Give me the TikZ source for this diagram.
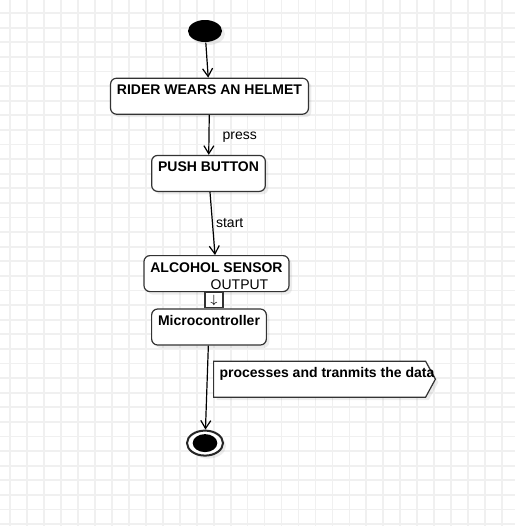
\documentclass[tikz,border=0pt]{standalone}
\usepackage{fontspec}
\setmainfont{Liberation Sans}
\usetikzlibrary{positioning, arrows.meta, shapes.geometric, shapes.symbols, shadows}

\begin{document}
\begin{tikzpicture}[x=0.5pt, y=-0.5pt, >={Straight Barb[length=4pt,width=5pt]}, line width=0.6pt]
\tikzset{
  gridline/.style={draw=black!6, line width=0.9pt},
  shdw/.style={drop shadow={opacity=0.15, shadow xshift=1.5pt, shadow yshift=-1.5pt}},
  act/.style ={draw=black!80, fill=white, rounded corners=3pt, shdw, font=\fontsize{7}{8.4}\selectfont\bfseries,
               inner xsep=3.2pt, inner ysep=3pt, text height=5.2pt, text depth=6.8pt},
  sig/.style ={signal, signal to=east, signal pointer angle=123, draw=black!80, fill=white, shdw,
               font=\fontsize{7}{8.4}\selectfont\bfseries, inner xsep=3pt, inner ysep=3pt, text height=5.2pt, text depth=6.8pt},
  lbl/.style ={font=\fontsize{7}{8.4}\selectfont, inner sep=1pt},
  init/.style={ellipse, fill=black, minimum width=17pt, minimum height=11pt, inner sep=0pt, shdw},
  ring/.style={ellipse, draw=black!85, line width=1pt, fill=white, minimum width=18pt, minimum height=12.5pt, inner sep=0pt, shdw},
  dot/.style ={ellipse, fill=black, minimum width=12.3pt, minimum height=9pt, inner sep=0pt},
  pinbox/.style={draw=black!80, fill=white, minimum width=9pt, minimum height=7.5pt, inner sep=0pt, font=\fontsize{6}{7}\selectfont}
}
\useasboundingbox (0,0) rectangle (515,526);

% grid
\foreach \k in {0,...,29} \draw[gridline] ({10+16.97*\k},0) -- ({10+16.97*\k},526);
\foreach \k in {0,...,35} \draw[gridline] (0,{13+14.6*\k}) -- (515,{13+14.6*\k});

% start
\node[init] (start) at (205,31) {};

% actions
\node[act, below=17.5pt of start, xshift=2.25pt] (rider) {RIDER WEARS AN HELMET};
\node[act, below=20pt of rider, xshift=-0.5pt] (push) {PUSH BUTTON};
\node[act, below=31.5pt of push, xshift=4pt] (alcohol) {ALCOHOL SENSOR};
\node[lbl, anchor=base, inner sep=0pt] (outlbl) at ([xshift=11.5pt, yshift=1.5pt]alcohol.south) {OUTPUT};
\node[pinbox, below=0pt of alcohol, xshift=-1.25pt] (pin) {$\downarrow$};
\node[act, below=0pt of pin, xshift=-2.5pt] (micro) {Microcontroller};

% signal
\node[sig, below right=7.5pt and 2pt of micro.south] (proc) {\makebox[100pt][l]{processes and tranmits the data}};

% end
\node[ring, below=42pt of micro, xshift=-2pt] (stop) {};
\node[dot] (stopdot) at (stop.center) {};

\draw[->] (start) -- (rider);
\draw[->] (rider) -- node[lbl, right=5.5pt, pos=0.55] (lpress) {press} (push);
\draw[->] (push) -- node[lbl, right=0.5pt, pos=0.5] (lstart) {start} (alcohol);
\draw[->] (micro) -- (stop);

\end{tikzpicture}
\end{document}
